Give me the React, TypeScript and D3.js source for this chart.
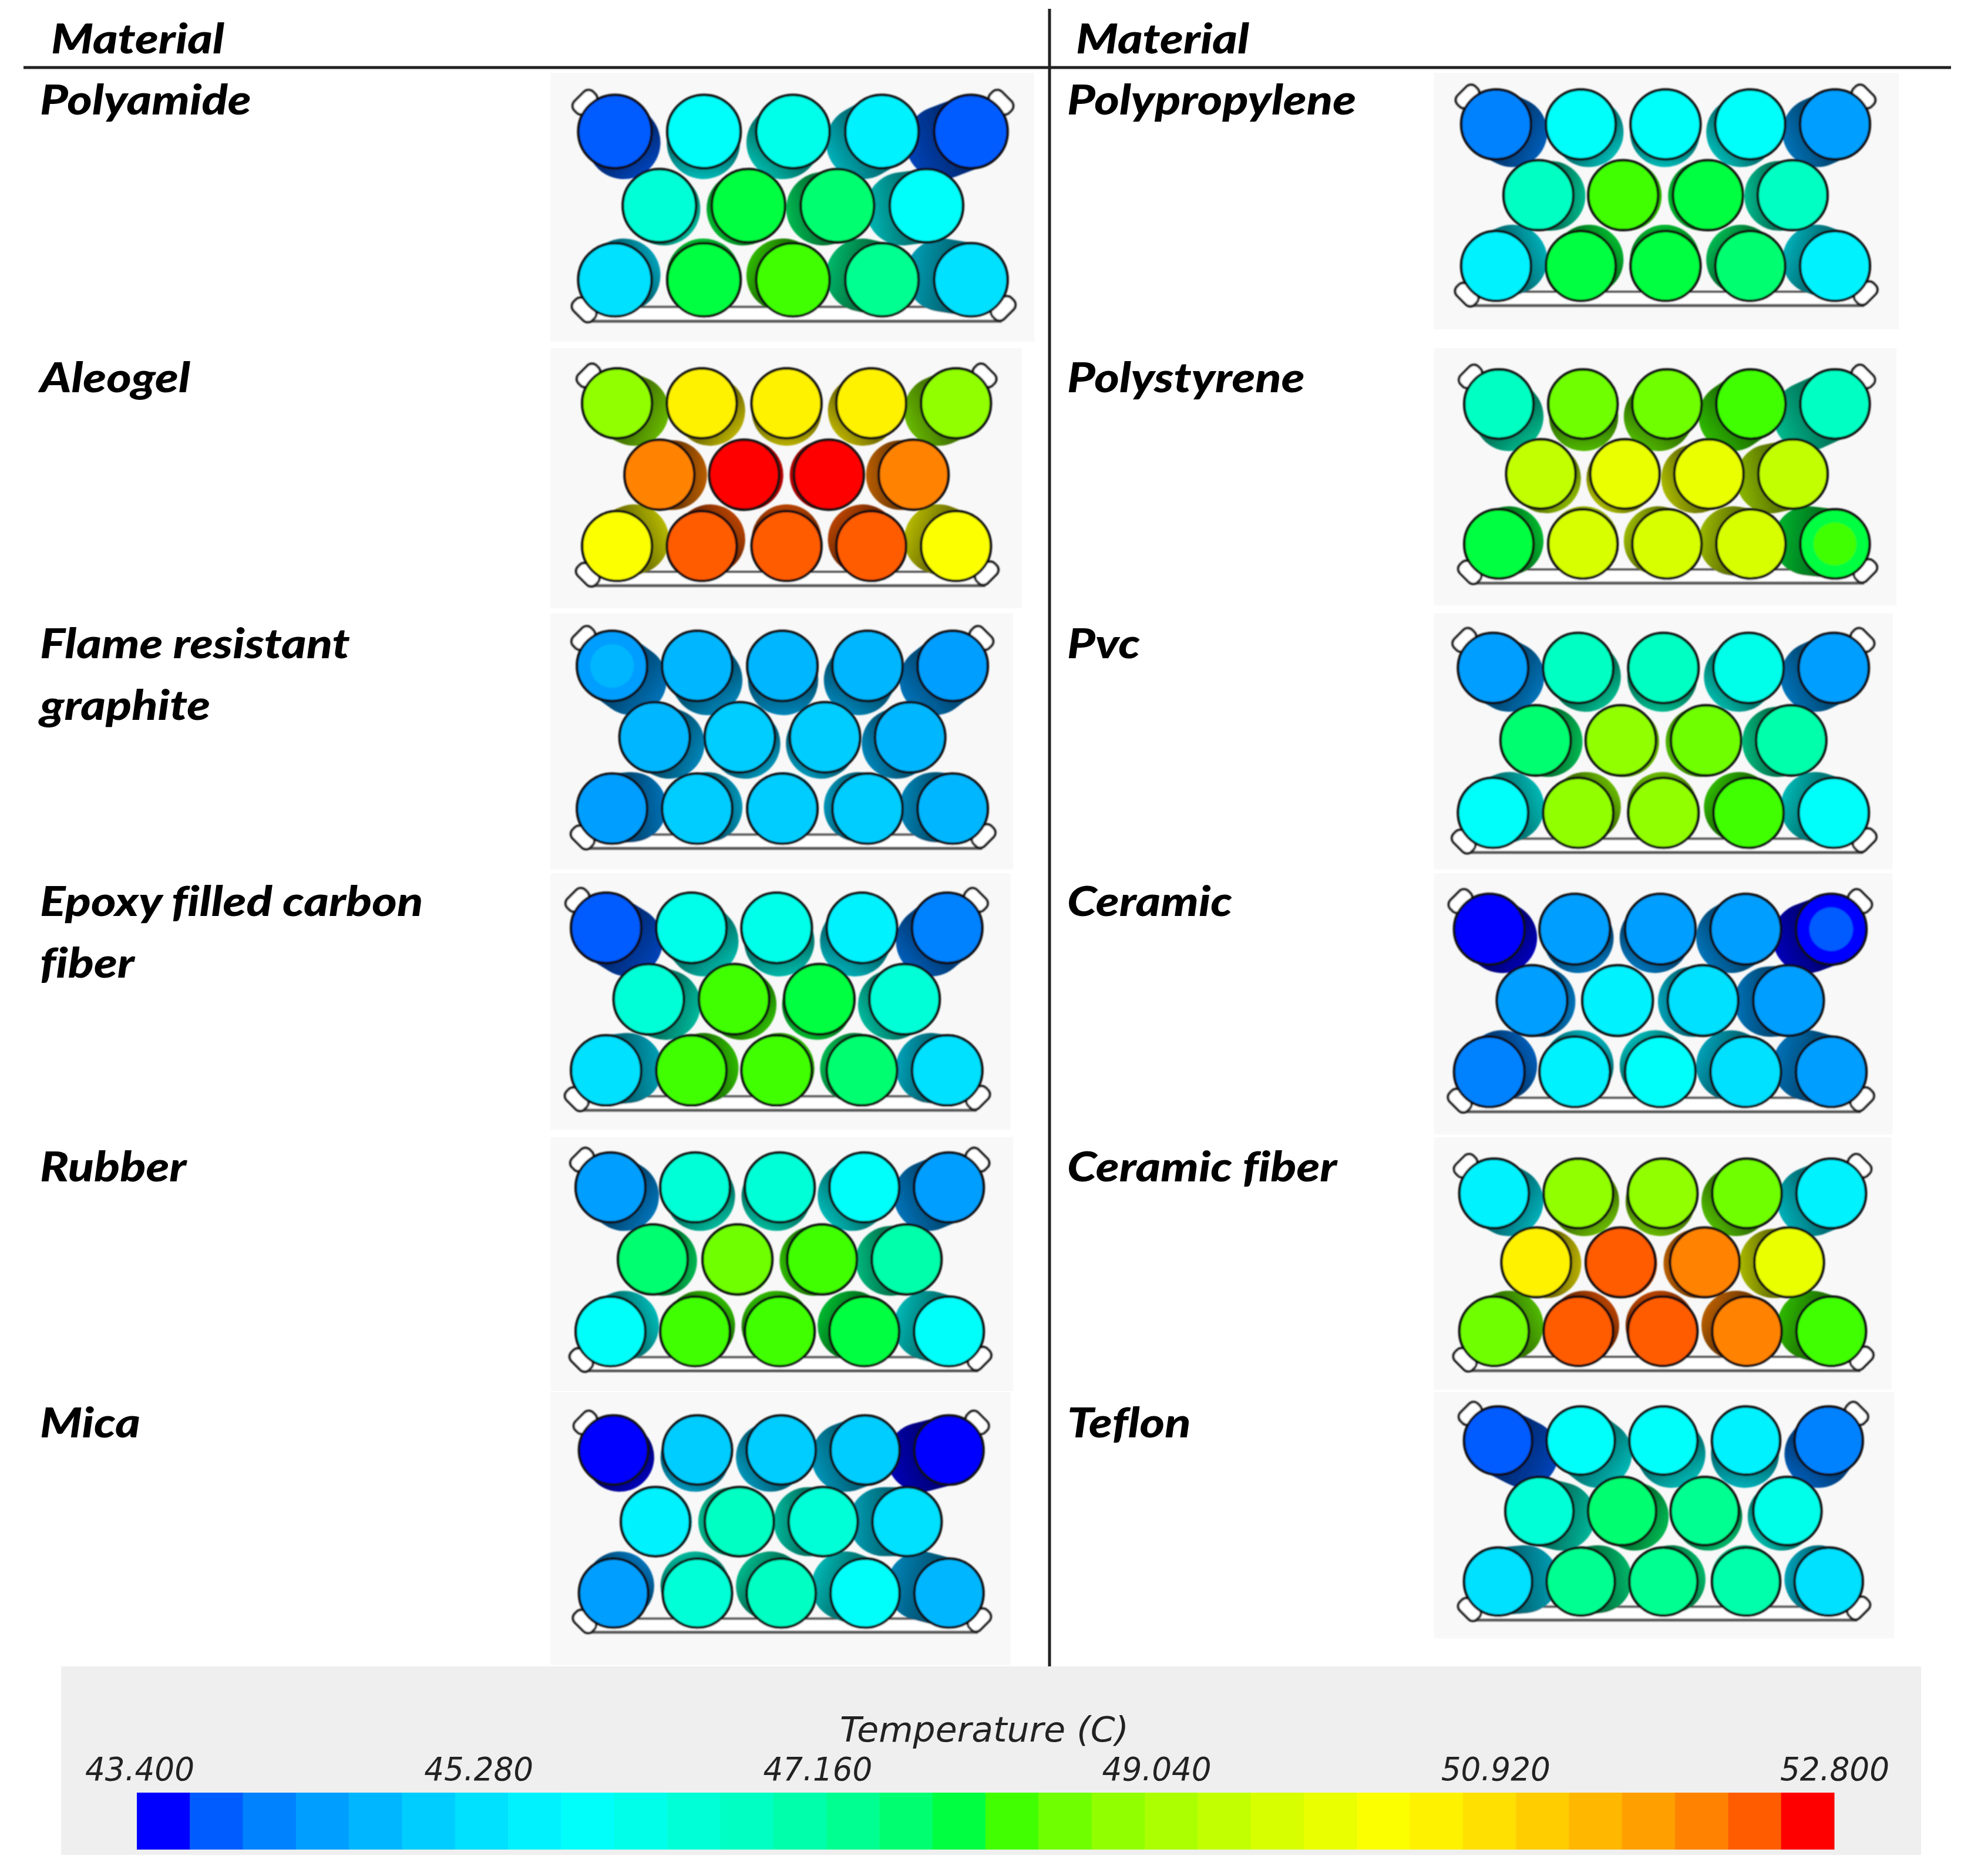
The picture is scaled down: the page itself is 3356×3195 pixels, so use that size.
import React from "react";
import * as d3 from "d3";

// ---------- data: cylinder temperatures (°C), rows top / middle / bottom ----------
const polyamide = [[43.84,45.9,46.19,45.6,43.84],[46.48,47.95,47.66,45.9],[45.31,47.95,48.25,47.37,45.31]];
const aleogel = [[48.84,50.6,50.6,50.6,48.84],[52.07,52.66,52.66,52.07],[50.31,52.36,52.36,52.36,50.31]];
const flameGraphite = [[44.43,44.72,44.72,44.72,44.43],[44.72,45.02,45.02,44.72],[44.43,45.02,45.02,45.02,44.72]];
const epoxyCarbon = [[43.84,46.19,46.19,45.6,44.13],[46.48,48.25,47.95,46.48],[45.31,48.25,48.25,47.66,45.31]];
const rubber = [[44.43,46.48,46.48,45.9,44.43],[47.66,48.54,48.25,47.07],[45.9,48.25,48.25,47.95,45.9]];
const mica = [[43.55,45.02,45.02,45.02,43.55],[45.6,46.78,46.48,45.31],[44.43,46.48,46.78,45.9,44.72]];
const polypropylene = [[44.13,45.9,45.9,45.9,44.43],[46.78,48.25,47.95,46.78],[45.6,47.95,47.95,47.66,45.6]];
const polystyrene = [[46.78,48.54,48.54,48.25,46.78],[49.42,50.01,50.01,49.42],[47.95,49.72,49.72,49.72,47.95]];
const pvc = [[44.43,46.78,46.78,46.19,44.43],[47.66,48.84,48.54,47.07],[45.9,48.84,48.84,48.25,45.9]];
const ceramic = [[43.55,44.43,44.43,44.43,43.55],[44.43,45.6,45.31,44.43],[44.13,45.6,45.9,45.31,44.43]];
const ceramicFiber = [[45.6,48.84,48.84,48.54,45.6],[50.6,52.36,52.07,50.01],[48.54,52.36,52.36,52.07,48.25]];
const teflon = [[43.84,45.9,45.9,45.6,44.13],[46.48,47.66,47.37,46.19],[45.31,47.37,47.37,47.07,45.31]];

const materials = [
  ["Polyamide"], ["Aleogel"], ["Flame resistant", "graphite"], ["Epoxy filled carbon", "fiber"], ["Rubber"], ["Mica"],
  ["Polypropylene"], ["Polystyrene"], ["Pvc"], ["Ceramic"], ["Ceramic fiber"], ["Teflon"],
];
const temperatures = [polyamide, aleogel, flameGraphite, epoxyCarbon, rubber, mica,
  polypropylene, polystyrene, pvc, ceramic, ceramicFiber, teflon];

// local hot/cold spots visible on a few end faces: panel, row, column, temperature
const spots = [[2,0,0,44.72],[9,0,4,43.84],[7,2,4,48.25],[3,1,2,47.95]];

const tickLabels = ["43.400", "45.280", "47.160", "49.040", "50.920", "52.800"];
const tempMin = 43.4;
const tempMax = 52.8;
const bandCount = 32;

// ---------- layout (separate from the data), in display units × unit ----------
const unit = 2.14;
const panelBoxes = [
  [438,58,823,272],[438,277,813,484],[438,488,806,692],[438,695,804,899],[438,905,806,1107],[438,1108,804,1325],
  [1141,58,1511,262],[1141,277,1509,482],[1141,488,1506,692],[1141,695,1506,903],[1141,905,1505,1106],[1141,1108,1507,1304],
];
// first column x, last column x, top row y, bottom row y
const panelGrid = [
  [489.3,772.5,104.7,222.7],[491,760.6,321,434.6],[487,758,530,643.6],[482.3,753.6,738.5,851.9],[485.8,755,945,1059.6],[488.2,755,1154,1267.9],
  [1190.4,1460,99,211.7],[1192.6,1460,321.6,432.9],[1188,1459,531.6,646.9],[1185,1457,739.5,853],[1188.8,1457,949.8,1059.5],[1192,1455,1146.5,1258.7],
];
// vanishing point: fraction across the grid, depth factor, row position
const panelDepth = [
  [0.236,0.105,1.4],[0.5,0.1,1.05],[0.52,0.11,1.8],[0.57,0.11,1.7],[0.4,0.1,1.2],[0.18,0.1,1.0],
  [0.48,0.1,1.1],[0.27,0.11,1.6],[0.47,0.1,1.2],[0.35,0.105,1.15],[0.43,0.1,1.15],[0.72,0.11,1.7],
];
const labelBaselines = [[91],[312],[524,573],[729,778],[940],[1144],[91],[312],[524],[729],[940],[1144]];
const labelStretch = 1.162;

// The legend's 32 bands: blue → cyan → green → yellow → red with square-root ramps.
function bandColor(i: number) {
  const f = (i / (bandCount - 1)) * 4;
  const seg = Math.min(3, Math.floor(f));
  const t = f - seg;
  const up = Math.round(255 * Math.sqrt(t));
  const down = Math.round(255 * Math.sqrt(1 - t));
  const rgb = [[0, up, 255], [0, 255, down], [up, 255, 0], [255, down, 0]][seg];
  return d3.rgb(rgb[0], rgb[1], rgb[2]).formatHex();
}
const bandColors = d3.range(bandCount).map(bandColor);
const colorScale = d3.scaleQuantize<string>().domain([tempMin, tempMax]).range(bandColors);

const labelFont = "Lato, 'Open Sans', sans-serif";
const legendFont = "'DejaVu Sans', sans-serif";

function Panel({ i }: { i: number }) {
  const [bx0, by0, bx1, by1] = panelBoxes[i];
  const [gx0, gx1, gy0, gy1] = panelGrid[i];
  const [vf, k, vr] = panelDepth[i];
  const x = d3.scaleLinear().domain([0, 4]).range([gx0 * unit, gx1 * unit]);
  const y = d3.scaleLinear().domain([0, 2]).range([gy0 * unit, gy1 * unit]);
  const r = (x(1) - x(0)) * 0.412;
  const vx = x(4 * vf);
  const vy = y(vr);
  const cyls = temperatures[i].flatMap((row, ri) =>
    row.map((t, ci) => {
      const cx = ri === 1 ? x(ci + 0.5) : x(ci);
      const cy = y(ri);
      const dx = k * (vx - cx);
      const dy = k * (vy - cy);
      const len = Math.hypot(dx, dy) || 1;
      return { cx, cy, dx, dy, ux: dx / len, uy: dy / len, fill: colorScale(t), key: `${ri}-${ci}`, ri, ci };
    })
  );
  const tabs = [
    [x(0) - r * 0.82, y(0) - r * 0.8, 45],
    [x(4) + r * 0.82, y(0) - r * 0.8, -45],
    [x(0) - r * 0.84, y(2) + r * 0.82, -45],
    [x(4) + r * 0.88, y(2) + r * 0.78, 45],
  ];
  const barX0 = x(0) - r * 0.82;
  const barX1 = x(4) + r * 0.84;
  return (
    <g>
      <rect x={bx0 * unit} y={by0 * unit} width={(bx1 - bx0) * unit} height={(by1 - by0) * unit} fill="#f8f8f8" />
      <defs>
        {cyls.map((c) => {
          const col = d3.color(c.fill)!;
          return (
            <linearGradient key={c.key} id={`sh-${i}-${c.key}`} gradientUnits="userSpaceOnUse"
              x1={c.cx + c.ux * r * 0.6} y1={c.cy + c.uy * r * 0.6}
              x2={c.cx + c.dx + c.ux * r} y2={c.cy + c.dy + c.uy * r}>
              <stop offset="0" stopColor={col.darker(2.1).formatHex()} />
              <stop offset="1" stopColor={col.darker(0.9).formatHex()} />
            </linearGradient>
          );
        })}
      </defs>
      <g filter="url(#soft)">
        <rect x={barX0} y={y(2) + r * 0.74} width={barX1 - barX0} height={r * 0.39} fill="#fff" />
        <line x1={barX0} x2={barX1} y1={y(2) + r * 0.74} y2={y(2) + r * 0.74} stroke="#555" strokeWidth={4} />
        <line x1={barX0} x2={barX1} y1={y(2) + r * 1.13} y2={y(2) + r * 1.13} stroke="#555" strokeWidth={5} />
        {tabs.map(([tx, ty, a], j) => (
          <rect key={j} x={-r * 0.22} y={-r * 0.36} width={r * 0.44} height={r * 0.72} rx={r * 0.18}
            transform={`translate(${tx},${ty}) rotate(${a})`} fill="#fff" stroke="#111" strokeWidth={4} />
        ))}
        {cyls.map((c) => (
          <line key={c.key} x1={c.cx} y1={c.cy} x2={c.cx + c.dx} y2={c.cy + c.dy}
            stroke={`url(#sh-${i}-${c.key})`} strokeWidth={2 * r} strokeLinecap="round" />
        ))}
        {cyls.map((c) => (
          <circle key={c.key} cx={c.cx} cy={c.cy} r={r} fill={c.fill} stroke="#0a0a0a" strokeWidth={4.5} />
        ))}
        {spots.filter((s) => s[0] === i).map((s) => {
          const cx = s[1] === 1 ? x(s[2] + 0.5) : x(s[2]);
          return <circle key={`${s[1]}-${s[2]}`} cx={cx} cy={y(s[1])} r={r * 0.62} fill={colorScale(s[3])} />;
        })}
      </g>
    </g>
  );
}

function Label({ x, y, children }: { x: number; y: number; children: string }) {
  return (
    <text transform={`translate(${x},${y}) scale(${labelStretch},1)`} fontFamily={labelFont} fontWeight={900}
      fontStyle="italic" fontSize={70} fill="#000" style={{ fontVariantLigatures: "none" }}>{children}</text>
  );
}

export default function App() {
  const bandX = d3.scaleBand<number>().domain(d3.range(bandCount)).range([233, 3123]);
  const tickX = d3.scalePoint<string>().domain(tickLabels).range([238, 3124]);
  return (
    <svg width={3356} height={3195} viewBox="0 0 3356 3195"
      style={{ position: "absolute", left: 0, top: 0, background: "#fff" }}>
      <defs>
        <filter id="soft" x="-5%" y="-5%" width="110%" height="110%">
          <feGaussianBlur stdDeviation={1.1} />
        </filter>
      </defs>
      {materials.map((_, i) => <Panel key={i} i={i} />)}
      <line x1={40} x2={3322} y1={115} y2={115} stroke="#222" strokeWidth={5} />
      <line x1={1787} x2={1787} y1={15} y2={2838} stroke="#222" strokeWidth={5} />
      {[87, 1832].map((hx) => <Label key={hx} x={hx} y={91}>Material</Label>)}
      {materials.map((lines, i) =>
        lines.map((t, j) => (
          <Label key={t} x={i < 6 ? 68 : 1817} y={labelBaselines[i][j] * unit}>{t}</Label>
        ))
      )}
      <rect x={104} y={2838} width={3167} height={321} fill="#efefef" />
      <text x={1676} y={2966} textAnchor="middle" fontFamily={legendFont} fontStyle="italic" fontSize={58}
        fill="#222" textLength={492} lengthAdjust="spacingAndGlyphs">Temperature (C)</text>
      {tickLabels.map((t) => (
        <text key={t} x={tickX(t)} y={3032} textAnchor="middle" fontFamily={legendFont} fontStyle="italic" fontSize={56}
          fill="#222" textLength={186} lengthAdjust="spacingAndGlyphs">{t}</text>
      ))}
      {bandColors.map((c, i) => (
        <rect key={i} x={bandX(i)} y={3053} width={bandX.bandwidth() + 0.5} height={97} fill={c} />
      ))}
    </svg>
  );
}
